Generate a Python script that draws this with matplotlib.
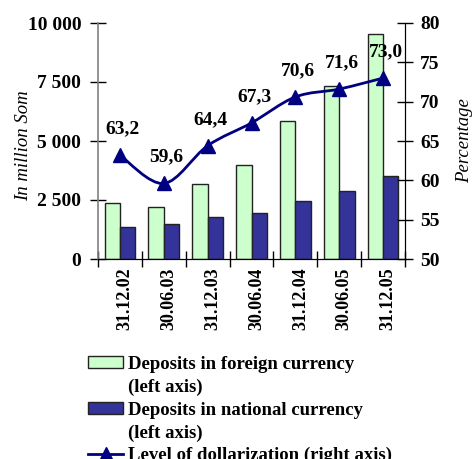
import numpy as np
import matplotlib
matplotlib.use("Agg")
import matplotlib.pyplot as plt
from matplotlib.path import Path
from matplotlib.patches import PathPatch, Patch
from matplotlib.lines import Line2D
from matplotlib.ticker import FuncFormatter
import matplotlib.transforms as mtransforms

# donnees
dates = ["31.12.02", "30.06.03", "31.12.03", "30.06.04", "31.12.04", "30.06.05", "31.12.05"]
foreign = [2390, 2190, 3190, 3970, 5830, 7330, 9530]
national = [1370, 1470, 1780, 1940, 2440, 2880, 3500]
dollarization = [63.2, 59.6, 64.4, 67.3, 70.6, 71.6, 73.0]

plt.rcParams["font.family"] = ["Liberation Serif", "DejaVu Serif"]

fig = plt.figure(figsize=(4.72, 4.59), dpi=100)
ax = fig.add_axes([98 / 472, 1 - 259 / 459, 307 / 472, 236 / 459])
ax2 = ax.twinx()

x = np.arange(len(dates))
w = 0.35
ax.bar(x - w / 2, foreign, w, color="#CCFFCC", edgecolor="#222222", linewidth=1, zorder=2)
ax.bar(x + w / 2, national, w, color="#333399", edgecolor="#222222", linewidth=1, zorder=2)

ax.set_xlim(-0.5, len(dates) - 0.5)
ax.set_ylim(0, 10000)
ax.set_yticks(np.arange(0, 10001, 2500))
ax.yaxis.set_major_formatter(FuncFormatter(lambda v, p: f"{int(v):,}".replace(",", " ")))
ax.tick_params(axis="y", direction="inout", length=12, width=1, pad=6, labelsize=14)
for t in ax.get_yticklabels():
    t.set_fontweight("bold")

# etiquettes au centre, petits traits entre les categories
ax.set_xticks(x)
ax.set_xticklabels(dates, rotation=90, fontweight="bold", fontsize=13)
ax.set_xticks(np.arange(-0.5, len(dates), 1), minor=True)
ax.tick_params(axis="x", which="major", length=0, pad=6)
ax.tick_params(axis="x", which="minor", direction="inout", length=12, width=1)
decal = mtransforms.ScaledTranslation(5 / 100, 0, fig.dpi_scale_trans)
for t in ax.get_xticklabels():
    t.set_transform(t.get_transform() + decal)

ax.spines["top"].set_visible(False)
ax.spines["left"].set_color("#808080")
ax.spines["left"].set_linewidth(1.2)
ax.set_ylabel("In million Som", fontstyle="italic", fontsize=13.5)
ax.yaxis.set_label_coords(-0.215, 0.48)

# courbe lissee (bezier) pour le taux de dollarisation
pts = np.column_stack([x, dollarization]).astype(float)
verts = [pts[0]]
codes = [Path.MOVETO]
n = len(pts)
for i in range(n - 1):
    p0 = pts[max(i - 1, 0)]
    p1 = pts[i]
    p2 = pts[i + 1]
    p3 = pts[min(i + 2, n - 1)]
    verts += [p1 + (p2 - p0) / 6, p2 - (p3 - p1) / 6, p2]
    codes += [Path.CURVE4] * 3
ax2.add_patch(PathPatch(Path(verts, codes), facecolor="none", edgecolor="#000080", linewidth=2, zorder=3))
ax2.plot(x, dollarization, linestyle="none", marker="^", markersize=10, color="#000080", zorder=4)
for xi, yi in zip(x, dollarization):
    ax2.annotate(f"{yi:.1f}".replace(".", ","), (xi, yi), xytext=(2, 19), textcoords="offset points",
                 ha="center", va="center", fontsize=14, fontweight="bold")

ax2.set_ylim(50, 80)
ax2.set_yticks(np.arange(50, 81, 5))
ax2.tick_params(axis="y", direction="inout", length=12, width=1, pad=5, labelsize=14)
for t in ax2.get_yticklabels():
    t.set_fontweight("bold")
ax2.spines["top"].set_visible(False)
ax2.spines["left"].set_visible(False)
ax2.set_ylabel("Percentage", fontstyle="italic", fontsize=13.5)
ax2.yaxis.set_label_coords(1.168, 0.5)

# legende : une ligne par rangee, poignee vide pour "(left axis)"
vide = Patch(facecolor="none", edgecolor="none")
handles = [
    Patch(facecolor="#CCFFCC", edgecolor="#222222"),
    vide,
    Patch(facecolor="#333399", edgecolor="#222222"),
    vide,
    Line2D([], [], color="#000080", linewidth=2, marker="^", markersize=10),
]
labels = [
    "Deposits in foreign currency",
    "(left axis)",
    "Deposits in national currency",
    "(left axis)",
    "Level of dollarization (right axis)",
]
leg = fig.legend(handles, labels, loc="upper left", bbox_to_anchor=(88 / 472, 1 - 356 / 459),
                 frameon=False, borderaxespad=0, borderpad=0, handlelength=1.87, handleheight=0.6,
                 handletextpad=0.27, labelspacing=0.3, prop={"weight": "bold", "size": 13.5})

fig.savefig("out.png", dpi=100)
